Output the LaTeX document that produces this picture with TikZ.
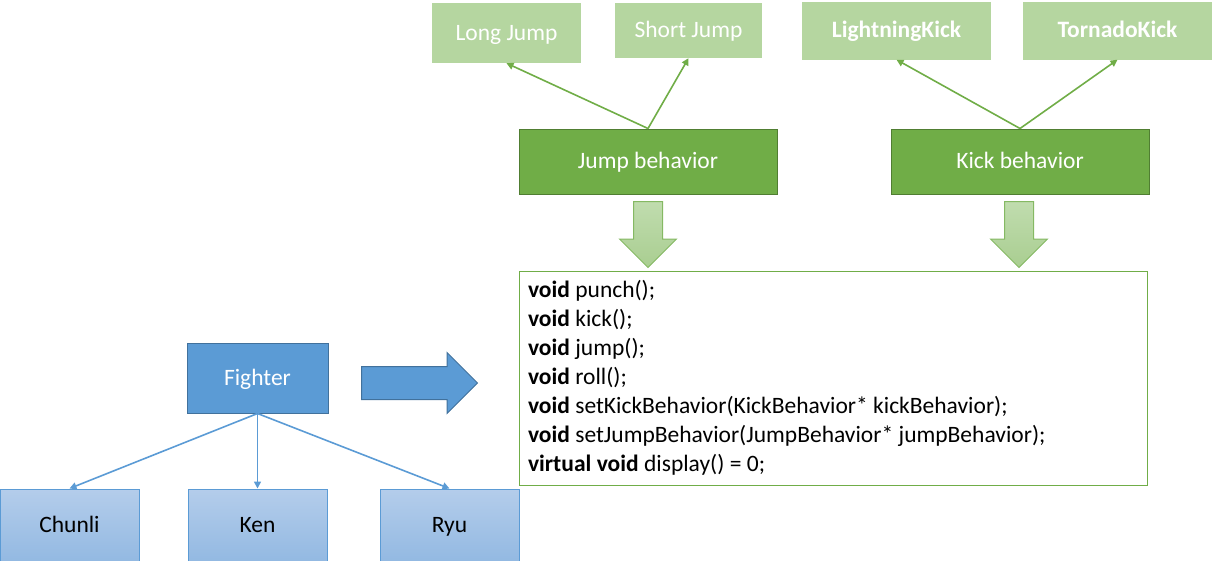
\documentclass[tikz,border=0pt]{standalone}
\usepackage{fontspec}
\setmainfont{Carlito}
\usetikzlibrary{positioning,shapes.arrows,arrows.meta}

\definecolor{lgreen}{HTML}{B5D6A0}
\definecolor{mgreen}{HTML}{70AD47}
\definecolor{dgreen}{HTML}{507E32}
\definecolor{mblue}{HTML}{5B9BD5}
\definecolor{dblue}{HTML}{41719C}
\definecolor{ltblue}{HTML}{B4CDEB}
\definecolor{lbblue}{HTML}{93B9E2}

\begin{document}
\begin{tikzpicture}[
  x=1pt, y=-1pt,
  font=\fontsize{23.5}{29}\selectfont,
  box/.style={align=center, inner sep=0pt, text=white, text height=18pt, text depth=4pt},
  variant/.style={box, fill=lgreen, minimum height=58pt},
  behav/.style={box, fill=mgreen, draw=dgreen, line width=1pt, minimum width=258pt, minimum height=65pt},
  fighter/.style={box, fill=mblue, draw=dblue, line width=1pt, minimum width=141pt, minimum height=70pt},
  hero/.style={box, text=black, top color=ltblue, bottom color=lbblue, draw=mblue, line width=1pt, minimum width=139pt, minimum height=72pt},
  code/.style={draw=mgreen, line width=1pt, fill=white, minimum width=628pt, minimum height=214pt, align=left, text width=610pt, inner sep=9pt},
  garr/.style={-{Triangle[width=7pt,length=7pt]}, line width=1.6pt, draw=mgreen},
  barr/.style={-{Triangle[width=7pt,length=7pt]}, line width=1.6pt, draw=mblue},
  fatdown/.style={single arrow, shape border rotate=270, minimum height=66pt, inner sep=14pt, single arrow head extend=14pt, top color=lgreen!85, bottom color=mgreen!60, draw=mgreen!85, line width=1pt, anchor=tail},
  fatright/.style={single arrow, minimum height=116pt, inner sep=16pt, single arrow head extend=14pt, fill=mblue, draw=dblue, line width=1pt, anchor=tail}
]
\useasboundingbox (0,0) rectangle (1212,560);

% behaviours and their variants
\node[behav] (jump) at (648,161.5) {Jump behavior};
\node[behav, right=113pt of jump] (kick) {Kick behavior};

\node[variant, minimum width=149pt, minimum height=60pt] (long) at (506.5,33) {Long Jump};
\node[variant, minimum width=147pt, minimum height=55pt] (short) at (688.5,30.5) {Short Jump};
\node[variant, minimum width=189pt, font=\fontsize{23.5}{29}\selectfont\bfseries] (light) at (896.5,30.5) {LightningKick};
\node[variant, minimum width=189pt, font=\fontsize{23.5}{29}\selectfont\bfseries] (tornado) at (1117.5,30.5) {TornadoKick};

\draw[garr] (jump.north) -- (long.south);
\draw[garr] (jump.north) -- (short.south);
\draw[garr] (kick.north) -- (light.south);
\draw[garr] (kick.north) -- (tornado.south);

% interface
\node[code] (iface) at (833,378) {\spaceskip=0.23em plus 0.05em minus 0.02em
\textbf{void} punch();\\
\textbf{void} kick();\\
\textbf{void} jump();\\
\textbf{void} roll();\\
\textbf{void} setKickBehavior(KickBehavior* kickBehavior);\\
\textbf{void} setJumpBehavior(JumpBehavior* jumpBehavior);\\
\textbf{virtual void} display() = 0;};

\node[fatdown] (jdown) at (648,201) {};
\node[fatdown] (kdown) at (1019,201) {};

% fighters
\node[fighter] (base) at (257.5,378) {Fighter};
\node[hero, below=75pt of base] (ken) {Ken};
\node[hero, left=48pt of ken] (chunli) {Chunli};
\node[hero, right=52pt of ken] (ryu) {Ryu};

\draw[barr] (base.south) -- (chunli.north);
\draw[barr] (base.south) -- (ken.north);
\draw[barr] (base.south) -- (ryu.north);

\node[fatright] (toiface) at (361,383) {};
\end{tikzpicture}
\end{document}
